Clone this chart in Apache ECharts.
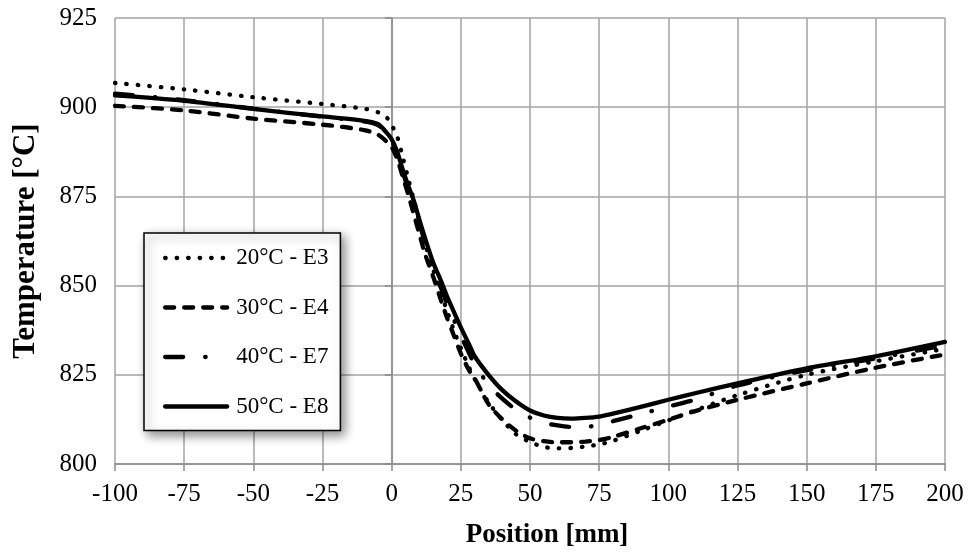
<!DOCTYPE html>
<html>
<head>
<meta charset="utf-8">
<script src="https://cdn.jsdelivr.net/npm/echarts@6/dist/echarts.min.js"></script>
<style>
  html, body { margin: 0; padding: 0; background: #fff; }
  #chart { width: 971px; height: 555px; }
</style>
</head>
<body>
<div id="chart"></div>
<script>
  // positions along the x axis (mm)
  const positions = [-100, -75, -50, -25, -10, -5, -2, 0, 2, 4, 6, 8, 10, 12, 15, 18, 20, 22, 25, 28, 30,
    35, 40, 45, 50, 55, 60, 65, 70, 75, 80, 90, 100, 110, 125, 150, 175, 200];

  // temperatures (°C)
  const e3_20C = [906.8, 905.0, 902.8, 900.9, 899.6, 898.6, 897.3, 895.0, 891.8, 886.0, 880.0, 874.0, 868.0, 862.0, 854.5, 847.5, 843.0, 838.5, 832.5, 827.0, 823.8,
    817.3, 812.3, 808.3, 806.2, 804.8, 804.4, 804.5, 804.9, 805.5, 806.5, 809.3, 812.2, 815.1, 819.3, 825.0, 828.8, 832.3];
  const e4_30C = [900.4, 899.1, 896.8, 895.1, 893.6, 892.3, 890.5, 888.8, 885.5, 880.5, 875.5, 870.0, 864.5, 859.0, 852.5, 845.5, 841.0, 837.0, 831.0, 826.2, 824.0,
    816.8, 812.5, 809.3, 807.2, 806.4, 806.1, 806.1, 806.3, 806.7, 807.6, 810.0, 812.4, 814.9, 818.0, 822.6, 827.0, 830.7];
  const e7_40C = [903.8, 902.0, 899.6, 897.3, 896.0, 895.0, 892.8, 890.5, 886.8, 881.8, 877.0, 872.5, 867.5, 862.3, 855.0, 849.0, 845.0, 841.3, 836.0, 831.0, 828.0,
    822.2, 818.3, 815.2, 813.0, 811.6, 810.8, 810.4, 810.4, 811.0, 812.0, 814.0, 816.1, 818.1, 822.0, 826.3, 829.6, 833.3];
  const e8_50C = [903.3, 901.8, 899.5, 897.4, 896.2, 895.3, 893.0, 891.0, 887.5, 882.5, 878.0, 873.8, 868.5, 863.5, 856.5, 851.0, 847.0, 843.5, 838.3, 833.5, 830.2,
    825.0, 820.7, 817.5, 815.0, 813.6, 812.9, 812.7, 812.9, 813.3, 814.1, 816.0, 818.0, 819.9, 822.6, 826.8, 830.2, 834.2];

  const seriesNames = ['20°C - E3', '30°C - E4', '40°C - E7', '50°C - E8'];

  function pairs(vals) {
    return positions.map((x, i) => [x, vals[i]]);
  }

  const font = 'Liberation Serif';
  const gridGray = '#a3a3a3';
  const lineW = 4.3;

  let myChart = echarts.init(document.getElementById('chart'));

  function lineSeries(name, vals, type) {
    return {
      name: name,
      type: 'line',
      data: pairs(vals),
      smooth: 0.3,
      showSymbol: false,
      symbol: 'none',
      lineStyle: { color: '#000', width: lineW, type: type, cap: 'round' },
      itemStyle: { color: '#000' }
    };
  }

  let option = {
    animation: false,
    backgroundColor: '#fff',
    grid: { left: 115, right: 26, top: 18, bottom: 91 },
    legend: {
      orient: 'vertical',
      left: 144,
      top: 233,
      data: seriesNames,
      backgroundColor: '#fff',
      borderColor: '#000',
      borderWidth: 1.5,
      borderRadius: 0,
      padding: [13, 12, 12, 19],
      itemWidth: 62,
      itemHeight: 24,
      itemGap: 25.5,
      shadowColor: 'rgba(0,0,0,0.45)',
      shadowBlur: 10,
      shadowOffsetX: 4,
      shadowOffsetY: 4,
      itemStyle: { color: 'rgba(0,0,0,0)', borderWidth: 0 },
      lineStyle: { width: lineW, cap: 'round' },
      textStyle: { fontFamily: font, fontSize: 23, color: '#000', lineHeight: 24, padding: [0, 0, 0, 4] }
    },
    xAxis: {
      type: 'value',
      min: -100,
      max: 200,
      interval: 25,
      name: 'Position [mm]',
      nameLocation: 'middle',
      nameGap: 58,
      nameTextStyle: { fontFamily: font, fontSize: 27, fontWeight: 'bold', color: '#000', padding: [0, 0, 0, 34] },
      axisLine: { show: true, lineStyle: { color: '#8a8a8a', width: 1.5 } },
      axisTick: { show: true, inside: false, length: 7, lineStyle: { color: '#8a8a8a', width: 1.5 } },
      axisLabel: { fontFamily: font, fontSize: 25, color: '#000', margin: 18 },
      splitLine: { show: true, lineStyle: { color: gridGray, width: 1.5 } }
    },
    yAxis: {
      type: 'value',
      min: 800,
      max: 925,
      interval: 25,
      name: 'Temperature [°C]',
      nameLocation: 'middle',
      nameGap: 74,
      nameTextStyle: { fontFamily: font, fontSize: 31, fontWeight: 'bold', color: '#000' },
      axisLine: { show: true, lineStyle: { color: '#8a8a8a', width: 1.5 } },
      axisTick: { show: true, inside: false, length: 7, lineStyle: { color: '#8a8a8a', width: 1.5 } },
      axisLabel: { fontFamily: font, fontSize: 25, color: '#000', margin: 18 },
      splitLine: { show: true, lineStyle: { color: gridGray, width: 1.5 } }
    },
    series: [
      lineSeries(seriesNames[0], e3_20C, [0.5, 11]),
      lineSeries(seriesNames[1], e4_30C, [9, 10]),
      lineSeries(seriesNames[2], e7_40C, [18, 22, 0.5, 22]),
      lineSeries(seriesNames[3], e8_50C, 'solid')
    ]
  };

  myChart.setOption(option);
</script>
</body>
</html>
